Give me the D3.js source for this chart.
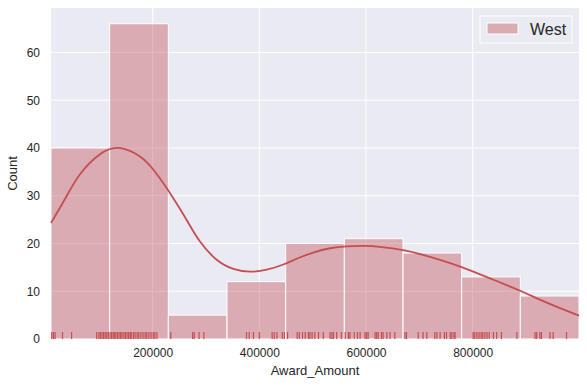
<!DOCTYPE html>
<html>
<head>
<meta charset="utf-8">
<script src="https://cdn.jsdelivr.net/npm/d3@7"></script>
<style>
  body { margin: 0; background: #fff; }
  text { font-family: "Liberation Sans", Arial, sans-serif; fill: #262626; }
</style>
</head>
<body>
<div id="chart"></div>
<script>
// histogram bins (Award_Amount), counts
var binStart = 9400;
var binWidth = 110000;
var binCounts = [40, 66, 5, 12, 20, 21, 18, 13, 9];

// kde line, [amount, count]
var kdeX = [9400, 35600, 63750, 101250, 137400, 176250, 204400, 235700, 263800, 288750, 320000, 351200, 382500, 413800, 445000, 470000, 501200, 532500, 563800, 598100, 626250, 670000, 720000, 780600, 838700, 889300, 938800, 999400];
var kdeY = [24.3, 29.3, 34.5, 38.7, 40.0, 38.2, 35.0, 30.0, 24.9, 20.4, 16.6, 14.7, 14.1, 14.5, 15.6, 16.8, 18.1, 19.0, 19.4, 19.5, 19.3, 18.6, 17.2, 15.0, 12.4, 10.1, 7.6, 4.9];

// rug ticks
var rugValues = [10700, 14000, 16900, 31000, 48000, 95000, 99000, 102000, 105000, 108000, 111000, 114000, 117000, 120000, 123000, 126000, 128000, 131000, 134000, 137000, 140000, 142500, 146000, 149000, 152000, 155000, 158000, 160000, 164000, 167000, 171000, 174000, 178000, 182000, 186000, 189000, 193000, 197000, 201000, 204000, 208000,
  234000, 275000, 278000, 287000, 296000,
  376000, 381000, 389000, 400000, 424000, 428000, 433000, 443000, 447000, 453000,
  471000, 475000, 481000, 486000, 492000, 495000, 499000, 504000, 511000, 520000, 532500, 536000, 539000, 545000, 554000, 561000, 567000, 570000, 578000, 584000, 589000, 598000, 601000, 604000, 617000, 620000, 623000, 629000, 632000, 639000, 645000, 654000,
  673000, 676000, 698000, 707000, 714000, 729000, 733000, 739000, 747000, 751000, 758000, 761000, 765000, 767000,
  801000, 804000, 808000, 812000, 816000, 819000, 823000, 827000, 831000, 839000, 845000, 854000, 883000, 917000, 920000, 926000, 929000, 945000, 951000, 976000];

var xTicks = [200000, 400000, 600000, 800000];
var yTicks = [0, 10, 20, 30, 40, 50, 60];
var seriesName = "West";

var svgWidth = 587, svgHeight = 387;
var margin = {top: 8, right: 8, bottom: 48, left: 51};
var width = svgWidth - margin.left - margin.right;
var height = svgHeight - margin.top - margin.bottom;
var red = "#c44e52";

var xMin = binStart, xMax = binStart + binWidth * binCounts.length;
var x = d3.scaleLinear().domain([xMin, xMax]).range([0, width]);
var y = d3.scaleLinear().domain([0, d3.max(binCounts) * 1.05]).range([height, 0]);

var svg = d3.select("#chart").append("svg")
    .attr("width", svgWidth)
    .attr("height", svgHeight);

var g = svg.append("g")
    .attr("transform", "translate(" + margin.left + "," + margin.top + ")");

g.append("rect")
    .attr("width", width)
    .attr("height", height)
    .attr("fill", "#eaeaf2");

// grid
g.selectAll("line.gx")
    .data(xTicks)
    .enter().append("line")
    .attr("x1", function(d) { return x(d); })
    .attr("x2", function(d) { return x(d); })
    .attr("y1", 0).attr("y2", height)
    .attr("stroke", "#fff").attr("stroke-width", 1);

g.selectAll("line.gy")
    .data(yTicks)
    .enter().append("line")
    .attr("x1", 0).attr("x2", width)
    .attr("y1", function(d) { return y(d); })
    .attr("y2", function(d) { return y(d); })
    .attr("stroke", "#fff").attr("stroke-width", 1);

// bars
g.selectAll("rect.bar")
    .data(binCounts)
    .enter().append("rect")
    .attr("class", "bar")
    .attr("x", function(d, i) { return x(binStart + i * binWidth); })
    .attr("width", function(d, i) { return x(binStart + (i + 1) * binWidth) - x(binStart + i * binWidth); })
    .attr("y", function(d) { return y(d); })
    .attr("height", function(d) { return height - y(d); })
    .attr("fill", red)
    .attr("fill-opacity", 0.4)
    .attr("stroke", "#fff")
    .attr("stroke-width", 1);

// rug
g.selectAll("line.rug")
    .data(rugValues)
    .enter().append("line")
    .attr("x1", function(d) { return x(d); })
    .attr("x2", function(d) { return x(d); })
    .attr("y1", height)
    .attr("y2", height - 7)
    .attr("stroke", red)
    .attr("stroke-width", 1.2);

// kde
var kdePoints = kdeX.map(function(v, i) { return {x: v, y: kdeY[i]}; });
var line = d3.line()
    .x(function(d) { return x(d.x); })
    .y(function(d) { return y(d.y); })
    .curve(d3.curveNatural);

g.append("path")
    .datum(kdePoints)
    .attr("fill", "none")
    .attr("stroke", red)
    .attr("stroke-width", 1.8)
    .attr("d", line);

// axes
var xAxis = g.append("g")
    .attr("transform", "translate(0," + height + ")")
    .call(d3.axisBottom(x).tickValues(xTicks).tickSize(0).tickPadding(9).tickFormat(d3.format("d")));
var yAxis = g.append("g")
    .call(d3.axisLeft(y).tickValues(yTicks).tickSize(0).tickPadding(11).tickFormat(d3.format("d")));
[xAxis, yAxis].forEach(function(a) {
    a.select(".domain").remove();
    a.selectAll("text").style("font-size", "12px").attr("fill", "#262626")
        .style("font-family", "'Liberation Sans', Arial, sans-serif");
});

svg.append("text")
    .attr("x", margin.left + width / 2)
    .attr("y", 375)
    .attr("text-anchor", "middle")
    .style("font-size", "13px")
    .text("Award_Amount");

svg.append("text")
    .attr("transform", "translate(17," + (margin.top + height / 2) + ") rotate(-90)")
    .attr("text-anchor", "middle")
    .style("font-size", "13px")
    .text("Count");

// legend
var legend = svg.append("g").attr("transform", "translate(480,16)");
legend.append("rect")
    .attr("width", 92).attr("height", 27)
    .attr("fill", "#eaeaf2").attr("stroke", "#fff").attr("stroke-width", 1);
legend.append("rect")
    .attr("x", 7).attr("y", 7).attr("width", 31).attr("height", 11)
    .attr("fill", red).attr("fill-opacity", 0.4)
    .attr("stroke", "#fff").attr("stroke-width", 1);
legend.append("text")
    .attr("x", 50).attr("y", 19)
    .style("font-size", "16px")
    .text(seriesName);
</script>
</body>
</html>
